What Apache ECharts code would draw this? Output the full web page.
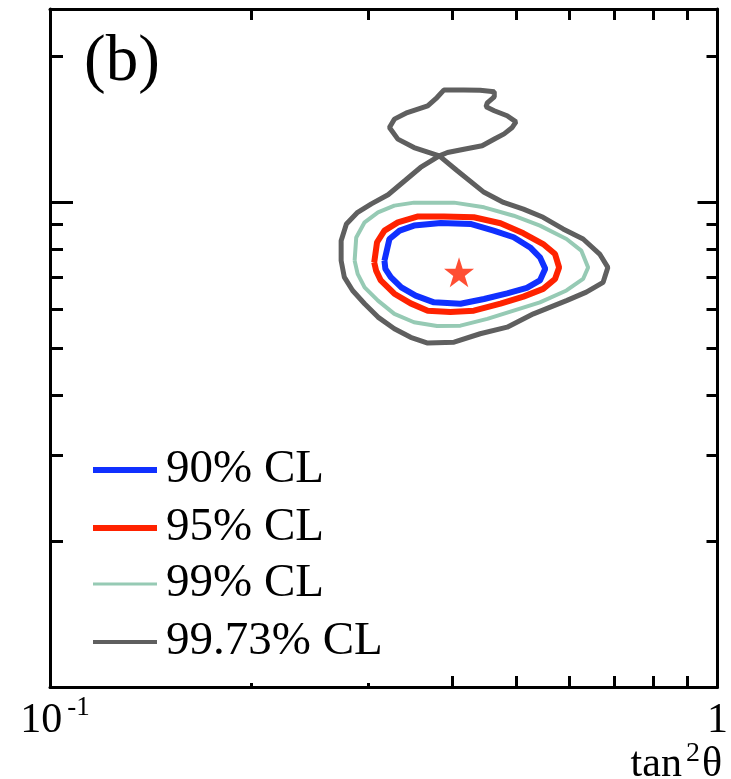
<!DOCTYPE html>
<html>
<head>
<meta charset="utf-8">
<script src="https://cdn.jsdelivr.net/npm/echarts@6/dist/echarts.min.js"></script>
<style>
  html, body { margin: 0; padding: 0; background: #fff; overflow: hidden; }
  #chart { width: 731px; height: 779px; }
</style>
</head>
<body>
<div id="chart"></div>
<script>
// Allowed regions in the (tan²θ, Δm²) plane; Δm² is given in units of 1e-5 eV².
const contour90 = [
  [0.317, 7.57], [0.3225, 8.39], [0.334, 8.73], [0.351, 8.94], [0.385, 9.05],
  [0.4265, 9.01], [0.462, 8.73], [0.495, 8.46], [0.524, 8.06], [0.542, 7.69],
  [0.552, 7.28], [0.542, 6.89], [0.518, 6.65], [0.484, 6.48], [0.447, 6.31],
  [0.412, 6.17], [0.376, 6.21], [0.353, 6.41], [0.336, 6.67], [0.324, 7.00],
  [0.318, 7.28], [0.317, 7.57]
];
const contour95 = [
  [0.306, 7.51], [0.309, 8.26], [0.317, 8.73], [0.332, 9.08], [0.355, 9.33],
  [0.389, 9.34], [0.4315, 9.30], [0.473, 9.04], [0.512, 8.62], [0.548, 8.19],
  [0.571, 7.81], [0.579, 7.33], [0.571, 6.94], [0.548, 6.62], [0.512, 6.38],
  [0.473, 6.17], [0.4315, 5.97], [0.398, 5.93], [0.368, 5.97], [0.347, 6.18],
  [0.328, 6.47], [0.313, 6.89], [0.308, 7.22], [0.306, 7.51]
];
const contour99 = [
  [0.286, 7.57], [0.2876, 8.45], [0.296, 9.08], [0.310, 9.52], [0.328, 9.83],
  [0.351, 9.97], [0.403, 9.97], [0.447, 9.75], [0.495, 9.37], [0.542, 8.94],
  [0.594, 8.39], [0.625, 7.94], [0.640, 7.33], [0.629, 6.94], [0.594, 6.57],
  [0.542, 6.21], [0.495, 5.97], [0.452, 5.74], [0.412, 5.56], [0.380, 5.55],
  [0.351, 5.65], [0.328, 5.88], [0.310, 6.26], [0.296, 6.67], [0.289, 7.11],
  [0.286, 7.57]
];
// 99.73% CL: lower island plus the detached upper island, touching at one point
const contour9973 = [
  [0.383, 12.45], [0.359, 11.78], [0.340, 11.06], [0.321, 10.35], [0.303, 9.91],
  [0.289, 9.52], [0.278, 9.01], [0.273, 8.32], [0.273, 7.57], [0.276, 7.00],
  [0.284, 6.57], [0.296, 6.17], [0.310, 5.79], [0.328, 5.48], [0.347, 5.26],
  [0.368, 5.12], [0.403, 5.14], [0.441, 5.35], [0.484, 5.52], [0.530, 5.88],
  [0.594, 6.26], [0.636, 6.52], [0.674, 6.83], [0.685, 7.33], [0.666, 7.81],
  [0.629, 8.39], [0.587, 8.80], [0.548, 9.30], [0.512, 9.67], [0.478, 9.98],
  [0.447, 10.47], [0.4075, 11.60], [0.383, 12.45],
  [0.351, 12.95], [0.332, 13.48], [0.3225, 14.24], [0.328, 14.82], [0.343, 15.29],
  [0.368, 15.79], [0.380, 16.42], [0.389, 17.01], [0.417, 17.01], [0.441, 16.99],
  [0.463, 16.87], [0.463, 16.48], [0.452, 16.01], [0.450, 15.71], [0.463, 15.42],
  [0.484, 15.06], [0.499, 14.63], [0.492, 14.22], [0.479, 13.82], [0.464, 13.50],
  [0.444, 13.06], [0.417, 12.85], [0.394, 12.65], [0.383, 12.45]
];
const bestFit = [[0.410, 7.16]];

const clNames = ['90% CL', '95% CL', '99% CL', '99.73% CL'];
const clColors = ['#1030ff', '#ff2200', '#96cab4', '#5f5f5f'];

const xTicks = [0.2, 0.3, 0.4, 0.5, 0.6, 0.7, 0.8, 0.9];
const xTicksShortBottom = [0.2, 0.3];
const xTicksBottom = [0.4, 0.5, 0.6, 0.7, 0.8, 0.9];
const xLabels = [0.1, 1];
const yTicksMinor = [2, 3, 4, 5, 6, 7, 8, 9, 20];
const yTicksMajor = [10];

const FONT = '"Liberation Serif", "DejaVu Serif", "Times New Roman", serif';
const BLACK = '#000';

function logAxisX(extra) {
  return Object.assign({
    type: 'log', logBase: 10, min: 0.1, max: 1,
    axisLine: { show: true, lineStyle: { color: BLACK, width: 3 } },
    axisTick: { show: true, inside: true, length: 11, lineStyle: { color: BLACK, width: 3 } },
    axisLabel: { show: false },
    splitLine: { show: false },
    minorTick: { show: false },
    minorSplitLine: { show: false }
  }, extra);
}
function logAxisY(extra) {
  return Object.assign({
    type: 'log', logBase: 10, min: 1, max: 25,
    axisLine: { show: true, lineStyle: { color: BLACK, width: 3 } },
    axisTick: { show: true, inside: true, length: 12, lineStyle: { color: BLACK, width: 3 } },
    axisLabel: { show: false },
    splitLine: { show: false },
    minorTick: { show: false },
    minorSplitLine: { show: false }
  }, extra);
}

const chart = echarts.init(document.getElementById('chart'), null, { renderer: 'canvas' });

const lineWidths = [6, 6, 4, 5];
const legendThickness = [6, 6, 3, 4];
const legendRows = [470, 528, 584, 642];

chart.setOption({
  animation: false,
  backgroundColor: '#fff',
  grid: { left: 50, right: 9, top: 9, bottom: 92, containLabel: false },
  xAxis: [
    logAxisX({
      position: 'bottom',
      axisTick: { show: true, inside: true, length: 11, customValues: xTicksBottom,
                  lineStyle: { color: BLACK, width: 3 } },
      axisLabel: {
        show: true, margin: 7, customValues: xLabels,
        formatter: v => (v > 0.5 ? '{m|1}' : '{n|10}{s|-1}'),
        rich: {
          n: { fontFamily: FONT, fontSize: 42, lineHeight: 42, color: BLACK, padding: [12, 0, 0, 10] },
          m: { fontFamily: FONT, fontSize: 42, lineHeight: 42, color: BLACK, padding: [12, 0, 0, 0] },
          s: { fontFamily: FONT, fontSize: 27, lineHeight: 27, color: BLACK, verticalAlign: 'top', padding: [0, 0, 0, 5] }
        }
      }
    }),
    logAxisX({ position: 'top', axisTick: { show: true, inside: true, length: 11, customValues: xTicks,
               lineStyle: { color: BLACK, width: 3 } } }),
    logAxisX({ position: 'bottom', axisLine: { show: false },
               axisTick: { show: true, inside: true, length: 4, customValues: xTicksShortBottom,
                           lineStyle: { color: BLACK, width: 3 } } })
  ],
  yAxis: [
    logAxisY({ position: 'left', axisTick: { show: true, inside: true, length: 13, customValues: yTicksMinor,
               lineStyle: { color: BLACK, width: 3 } } }),
    logAxisY({ position: 'right', axisTick: { show: true, inside: true, length: 11, customValues: yTicksMinor,
               lineStyle: { color: BLACK, width: 3 } } }),
    logAxisY({ position: 'left', axisLine: { show: false },
               axisTick: { show: true, inside: true, length: 23, customValues: yTicksMajor,
                           lineStyle: { color: BLACK, width: 3 } } }),
    logAxisY({ position: 'right', axisLine: { show: false },
               axisTick: { show: true, inside: true, length: 20, customValues: yTicksMajor,
                           lineStyle: { color: BLACK, width: 3 } } })
  ],
  legend: clNames.map((name, i) => ({
    data: [{ name: name, icon: 'rect', itemStyle: { color: clColors[i], borderWidth: 0 } }],
    left: 93,
    top: legendRows[i] - 24,
    padding: 0,
    itemWidth: 64,
    itemHeight: legendThickness[i],
    itemStyle: { borderWidth: 0 },
    lineStyle: { width: 0 },
    selectedMode: false,
    textStyle: { fontFamily: FONT, fontSize: 47, lineHeight: 48, color: BLACK, padding: [0, 0, 0, 4] }
  })),
  graphic: [
    { type: 'text', left: 84, top: 30, z: 10,
      style: { text: '(b)', fontFamily: FONT, fontSize: 65, fill: BLACK } },
    { type: 'text', right: 9, top: 736, z: 10,
      style: {
        text: '{t|tan}{s|2}{t|θ}',
        rich: {
          t: { fontFamily: FONT, fontSize: 42, lineHeight: 42, fill: BLACK, padding: [8, 0, 0, 0] },
          s: { fontFamily: FONT, fontSize: 28, lineHeight: 28, fill: BLACK, verticalAlign: 'top', padding: [0, 2, 0, 4] }
        }
      } }
  ],
  series: [
    { name: clNames[3], type: 'line', data: contour9973, symbol: 'none', silent: true,
      color: clColors[3], lineStyle: { color: clColors[3], width: lineWidths[3] }, z: 2 },
    { name: clNames[2], type: 'line', data: contour99, symbol: 'none', silent: true,
      color: clColors[2], lineStyle: { color: clColors[2], width: lineWidths[2] }, z: 3 },
    { name: clNames[1], type: 'line', data: contour95, symbol: 'none', silent: true,
      color: clColors[1], lineStyle: { color: clColors[1], width: lineWidths[1] }, z: 4 },
    { name: clNames[0], type: 'line', data: contour90, symbol: 'none', silent: true,
      color: clColors[0], lineStyle: { color: clColors[0], width: lineWidths[0] }, z: 5 },
    { name: 'best fit', type: 'scatter', data: bestFit, silent: true, z: 6,
      symbol: 'path://M50,0 L61.8,35.1 L98.8,35.1 L68.9,56.9 L80.3,92.1 L50,70.4 L19.7,92.1 L31.1,56.9 L1.2,35.1 L38.2,35.1 Z',
      symbolSize: 30, itemStyle: { color: '#ff2200' } }
  ]
});
</script>
</body>
</html>
